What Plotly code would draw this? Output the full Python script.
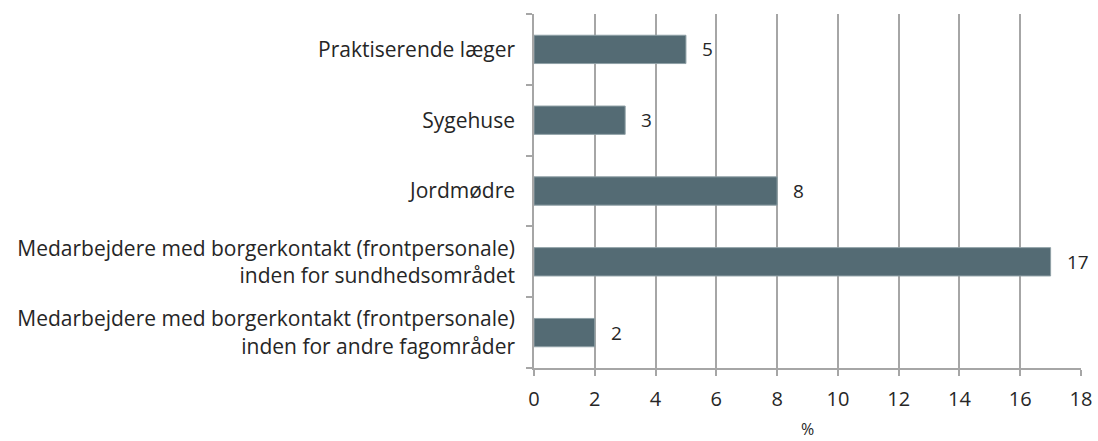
import plotly.graph_objects as go

# Andel i procent pr. faggruppe
categories = [
    "Praktiserende læger",
    "Sygehuse",
    "Jordmødre",
    "Medarbejdere med borgerkontakt (frontpersonale)<br>inden for sundhedsområdet",
    "Medarbejdere med borgerkontakt (frontpersonale)<br>inden for andre fagområder",
]
values = [5, 3, 8, 17, 2]
x_ticks = [0, 2, 4, 6, 8, 10, 12, 14, 16, 18]

FONT = "Open Sans"
TEXT_COLOR = "#262626"
GRID_COLOR = "#a6a6a6"
BAR_COLOR = "#546b74"

fig = go.Figure()
fig.add_trace(go.Bar(
    x=values,
    y=categories,
    orientation="h",
    marker=dict(color=BAR_COLOR, line=dict(color="#8fa0a6", width=1)),
    hoverinfo="skip",
))

# Værdietiketter til højre for hver søjle
for cat, val in zip(categories, values):
    fig.add_annotation(
        x=val, y=cat, text=str(val), showarrow=False,
        xanchor="left", xshift=14,
        font=dict(family=FONT, size=19, color=TEXT_COLOR),
    )

# Aksetitel under x-aksen
fig.add_annotation(
    x=0.5, y=0, xref="paper", yref="paper", yanchor="middle",
    yshift=-61, borderpad=0,
    text="%", showarrow=False,
    font=dict(family=FONT, size=16, color=TEXT_COLOR),
)

fig.update_layout(
    width=1098, height=441,
    margin=dict(l=534, r=17, t=14, b=73),
    paper_bgcolor="white", plot_bgcolor="white",
    bargap=0.6,
    showlegend=False,
    font=dict(family=FONT, color=TEXT_COLOR),
)

fig.update_xaxes(
    range=[0, 18],
    tickvals=x_ticks,
    ticktext=[str(v) for v in x_ticks],
    showgrid=True, gridcolor=GRID_COLOR, gridwidth=1.5,
    showline=True, linecolor=GRID_COLOR, linewidth=1.5,
    ticks="outside", ticklen=6, tickcolor=GRID_COLOR, tickwidth=1.5,
    ticklabelstandoff=6,
    tickfont=dict(family=FONT, size=20, color=TEXT_COLOR),
    automargin=False,
    zeroline=False,
)

fig.update_yaxes(
    categoryorder="array",
    categoryarray=categories[::-1],
    showgrid=False,
    showline=True, linecolor=GRID_COLOR, linewidth=1.5,
    ticks="outside", tickson="boundaries", ticklen=6, tickcolor=GRID_COLOR, tickwidth=1.5,
    ticklabelstandoff=13,
    tickfont=dict(family=FONT, size=21, color=TEXT_COLOR),
    automargin=False,
)

fig.write_html("out.html")
